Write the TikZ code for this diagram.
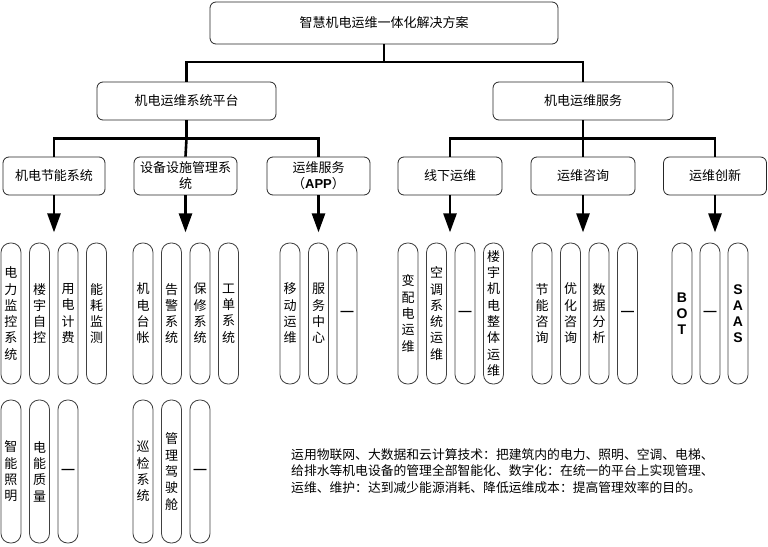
\documentclass[tikz,border=0pt]{standalone}
\usepackage{fontspec}
\setmainfont{Noto Sans CJK SC}
\newfontfamily\lat{Liberation Sans}
\usetikzlibrary{arrows.meta}
\tikzset{
  box/.style={draw=black!85, line width=0.8pt, rounded corners=6pt, fill=white,
    font=\fontsize{13}{16}\selectfont, align=center, inner sep=0pt},
  pill/.style={draw=black!75, line width=0.8pt, rounded corners=9.5pt, fill=white,
    minimum width=20pt, minimum height=141pt, inner sep=0pt, align=center,
    font=\fontsize{13}{16.3}\selectfont},
  pilltwo/.style={pill, minimum height=143pt},
  conn/.style={line width=2.6pt, black},
  arr/.style={conn, -{Triangle[width=13pt,length=19pt]}},
  dashtxt/.style={font=\fontsize{13}{16}\selectfont\lat\bfseries},
  lattxt/.style={font=\fontsize{14}{16}\selectfont\lat\bfseries}
}
\begin{document}
\begin{tikzpicture}[x=1pt,y=-1pt]
\useasboundingbox (0,0) rectangle (768,546);
% top
\node[box, minimum width=348pt, minimum height=42pt] (top) at (384,23) {智慧机电运维一体化解决方案};
% level 1
\node[box, minimum width=179pt, minimum height=38pt] (plat) at (186.5,101) {机电运维系统平台};
\node[box, minimum width=180pt, minimum height=38pt] (serv) at (583,101) {机电运维服务};
% level 2
\node[box, minimum width=102pt, minimum height=38pt] (l1) at (54,176) {机电节能系统};
\node[box, minimum width=103pt, minimum height=38pt] (l2) at (185.5,176) {设备设施管理系\\统};
\node[box, minimum width=103pt, minimum height=38pt] (l3) at (318.5,176) {运维服务\\（{\lat\bfseries APP}）};
\node[box, minimum width=104pt, minimum height=38pt] (r1) at (450,176) {线下运维};
\node[box, minimum width=104pt, minimum height=38pt] (r2) at (583,176) {运维咨询};
\node[box, minimum width=103pt, minimum height=38pt] (r3) at (715,176) {运维创新};
% connectors
\coordinate (j0) at (384,62);
\draw[conn] (top.south) -- (j0);
\draw[conn] (plat.north) |- (j0) -| (serv.north);
\draw[conn] (plat.south) -- ++(0,18) coordinate (jp);
\draw[conn] (l1.north) |- (jp) -| (l3.north);
\draw[conn] (jp) -- (l2.north);
\draw[conn] (serv.south) -- ++(0,18) coordinate (js);
\draw[conn] (r1.north) |- (js) -| (r3.north);
\draw[conn] (js) -- (r2.north);
\foreach \n in {l1,l2,l3,r1,r2,r3}{
  \draw[arr] (\n.south) -- ++(0,37) coordinate (\n-tip);
}
% pills row 1
\node[pill] (p1) at (11,313.5) {电\\力\\监\\控\\系\\统};
\node[pill] (p2) at (39.5,313.5) {楼\\宇\\自\\控};
\node[pill] (p3) at (68,313.5) {用\\电\\计\\费};
\node[pill] (p4) at (96.5,313.5) {能\\耗\\监\\测};
\node[pill] (q1) at (143,313.5) {机\\电\\台\\帐};
\node[pill] (q2) at (171.5,313.5) {告\\警\\系\\统};
\node[pill] (q3) at (200,313.5) {保\\修\\系\\统};
\node[pill] (q4) at (228.5,313.5) {工\\单\\系\\统};
\node[pill] (a1) at (290,313.5) {移\\动\\运\\维};
\node[pill] (a2) at (318.5,313.5) {服\\务\\中\\心};
\node[pill, dashtxt] (a3) at (347,313.5) {—};
\node[pill] (b1) at (408,313.5) {变\\配\\电\\运\\维};
\node[pill] (b2) at (436.5,313.5) {空\\调\\系\\统\\运\\维};
\node[pill, dashtxt] (b3) at (465,313.5) {—};
\node[pill] (b4) at (493.5,313.5) {楼\\宇\\机\\电\\整\\体\\运\\维};
\node[pill] (c1) at (542,313.5) {节\\能\\咨\\询};
\node[pill] (c2) at (570.5,313.5) {优\\化\\咨\\询};
\node[pill] (c3) at (599,313.5) {数\\据\\分\\析};
\node[pill, dashtxt] (c4) at (627.5,313.5) {—};
\node[pill, lattxt] (d1) at (682,313.5) {B\\O\\T};
\node[pill, dashtxt] (d2) at (710,313.5) {—};
\node[pill, lattxt] (d3) at (738,313.5) {S\\A\\A\\S};
% pills row 2
\node[pilltwo] (p5) at (11,471.5) {智\\能\\照\\明};
\node[pilltwo] (p6) at (39.5,471.5) {电\\能\\质\\量};
\node[pilltwo, dashtxt] (p7) at (68,471.5) {—};
\node[pilltwo] (q5) at (143,471.5) {巡\\检\\系\\统};
\node[pilltwo] (q6) at (171.5,471.5) {管\\理\\驾\\驶\\舱};
\node[pilltwo, dashtxt] (q7) at (200,471.5) {—};
% description
\node[anchor=north west, align=left, inner sep=0pt, font=\fontsize{12.8}{16.7}\selectfont] (desc) at (291,448)
{运用物联网、大数据和云计算技术：把建筑内的电力、照明、空调、电梯、\\
给排水等机电设备的管理全部智能化、数字化：在统一的平台上实现管理、\\
运维、维护：达到减少能源消耗、降低运维成本：提高管理效率的目的。};
\end{tikzpicture}
\end{document}
